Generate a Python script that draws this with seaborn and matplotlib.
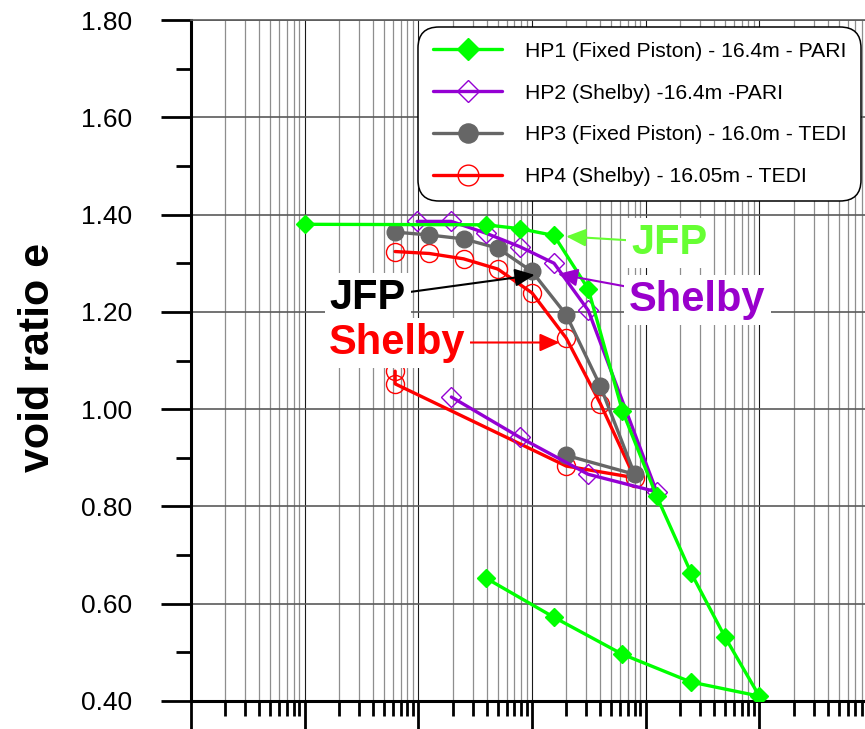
import numpy as np
import pandas as pd
import matplotlib
matplotlib.use("Agg")
import matplotlib.pyplot as plt
from matplotlib.ticker import LogLocator, MultipleLocator, FormatStrFormatter, NullFormatter
import seaborn as sns

# Oedometer results: vertical stress steps and void ratio at end of each step
hp1_stress = [1.0, 39.06, 78.13, 156.25, 312.5, 625, 1250, 2500, 5000, 10000, 2500, 625, 156.25, 39.06]
hp1_void = [1.380, 1.379, 1.371, 1.357, 1.247, 0.996, 0.821, 0.664, 0.531, 0.410, 0.439, 0.496, 0.572, 0.653]

hp2_stress = [9.77, 19.53, 39.06, 78.13, 156.25, 312.5, 1250, 312.5, 78.13, 19.53]
hp2_void = [1.386, 1.386, 1.362, 1.334, 1.300, 1.203, 0.830, 0.866, 0.942, 1.025]

hp3_stress = [6.25, 12.5, 25, 50, 100, 200, 400, 800, 200]
hp3_void = [1.364, 1.358, 1.350, 1.331, 1.283, 1.194, 1.047, 0.866, 0.905]

hp4_stress = [6.25, 12.5, 25, 50, 100, 200, 400, 800, 200, 6.25, 6.25]
hp4_void = [1.324, 1.320, 1.309, 1.288, 1.239, 1.146, 1.011, 0.859, 0.883, 1.052, 1.078]

series_labels = [
    "HP1 (Fixed Piston) - 16.4m - PARI",
    "HP2 (Shelby) -16.4m -PARI",
    "HP3 (Fixed Piston) - 16.0m - TEDI",
    "HP4 (Shelby) - 16.05m - TEDI",
]

y_ticks = [0.40, 0.60, 0.80, 1.00, 1.20, 1.40, 1.60, 1.80]

sns.set_theme(style="ticks")
plt.rcParams["font.family"] = ["Liberation Sans", "DejaVu Sans"]
for key in ["text.color", "axes.labelcolor", "xtick.color", "ytick.color", "axes.edgecolor"]:
    plt.rcParams[key] = "black"

fig = plt.figure(figsize=(8.65, 7.29), dpi=100)
ax = fig.add_axes([191 / 865, 28 / 729, 682 / 865, 681 / 729])

styles = [
    dict(color="#00ff00", marker="D", markersize=9.5, markerfacecolor="#00ff00",
         markeredgecolor="#00ff00", markeredgewidth=1.0, zorder=6),
    dict(color="#9400d3", marker="D", markersize=10, markerfacecolor="none",
         markeredgecolor="#9400d3", markeredgewidth=1.0, zorder=5),
    dict(color="#666666", marker="o", markersize=12, markerfacecolor="#666666",
         markeredgecolor="#666666", markeredgewidth=1.0, zorder=4),
    dict(color="#ff0000", marker="o", markersize=13, markerfacecolor="none",
         markeredgecolor="#ff0000", markeredgewidth=1.0, zorder=3),
]
all_series = [(hp1_stress, hp1_void), (hp2_stress, hp2_void),
              (hp3_stress, hp3_void), (hp4_stress, hp4_void)]

for (stress, void), label, st in zip(all_series, series_labels, styles):
    df = pd.DataFrame({"stress": stress, "void": void})
    sns.lineplot(data=df, x="stress", y="void", sort=False, estimator=None,
                 ax=ax, linewidth=2.4, label=label, **st)

ax.set_xscale("log")
ax.set_xlim(0.1, 1e5)
ax.set_ylim(0.4, 1.8)
ax.set_xlabel("")

ax.xaxis.set_major_locator(LogLocator(base=10, numticks=20))
ax.xaxis.set_minor_locator(LogLocator(base=10, subs=np.arange(2, 10), numticks=20))
ax.xaxis.set_major_formatter(NullFormatter())
ax.xaxis.set_minor_formatter(NullFormatter())
ax.set_yticks(y_ticks)
ax.yaxis.set_minor_locator(MultipleLocator(0.1))
ax.yaxis.set_major_formatter(FormatStrFormatter("%.2f"))

ax.grid(which="major", axis="x", color="#1a1a1a", linewidth=0.8)
ax.grid(which="minor", axis="x", color="#8e8e8e", linewidth=0.9)
ax.grid(which="major", axis="y", color="#5a5a5a", linewidth=1.2)

ax.tick_params(axis="x", which="major", direction="out", length=25, width=2,
               bottom=True, labelbottom=False)
ax.tick_params(axis="x", which="minor", direction="out", length=11, width=2, bottom=True)
ax.tick_params(axis="y", which="major", direction="out", length=21.6, width=2,
               left=True, labelsize=19, pad=21)
ax.tick_params(axis="y", which="minor", direction="out", length=10.8, width=2, left=True)

for side in ["left", "bottom"]:
    ax.spines[side].set_linewidth(2.2)
    ax.spines[side].set_color("black")
ax.spines["right"].set_visible(False)
ax.spines["top"].set_color("#5a5a5a")
ax.spines["top"].set_linewidth(1.2)

ax.set_ylabel("void ratio e", fontsize=31, fontweight="bold")
ax.yaxis.set_label_coords(-0.195, 0.505)

leg = ax.legend(loc="upper left", bbox_to_anchor=(418 / 865, 1 - 27 / 729),
                bbox_transform=fig.transFigure, fontsize=15.2, frameon=True,
                fancybox=True, edgecolor="black", framealpha=1, borderpad=0.7,
                labelspacing=1.08, handlelength=3.3, handletextpad=1.05,
                borderaxespad=0, markerscale=1.15)
leg.get_frame().set_linewidth(1.1)
leg.get_frame().set_boxstyle("round,pad=0,rounding_size=1.0")
leg.set_zorder(20)

box = dict(boxstyle="square,pad=0.12", fc="white", ec="none")


def arrow(color):
    return dict(arrowstyle="-|>,head_length=0.8,head_width=0.36", color=color,
                lw=1.5, mutation_scale=15, shrinkA=0, shrinkB=0)


ax.annotate("JFP", xy=(200, 1.355), xytext=(1620, 1.342), color="#66ff33",
            fontsize=30, fontweight="bold", ha="center", va="center",
            bbox=box, arrowprops=arrow("#66ff33"), zorder=12)
ax.annotate("Shelby", xy=(169, 1.278), xytext=(2850, 1.225), color="#9900cc",
            fontsize=30, fontweight="bold", ha="center", va="center",
            bbox=box, arrowprops=arrow("#9900cc"), zorder=12)
ax.annotate("JFP", xy=(105.6, 1.276), xytext=(3.58, 1.229), color="black",
            fontsize=30, fontweight="bold", ha="center", va="center",
            bbox=box, arrowprops=arrow("black"), zorder=12)
ax.annotate("Shelby", xy=(175, 1.137), xytext=(6.5, 1.137), color="#ff0000",
            fontsize=30, fontweight="bold", ha="center", va="center",
            bbox=box, arrowprops=arrow("#ff0000"), zorder=12)

fig.savefig("out.png", dpi=100)
